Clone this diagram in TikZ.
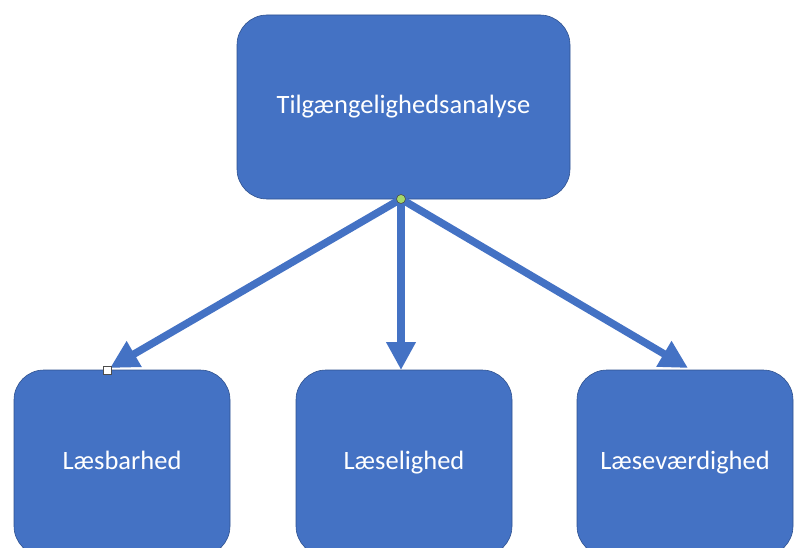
\documentclass[tikz,border=0pt]{standalone}
\usepackage{fontspec}
\setmainfont{Carlito}
\usetikzlibrary{arrows.meta}
\definecolor{boxblue}{HTML}{4472C4}
\definecolor{boxedge}{HTML}{2F528F}
\definecolor{handlegreen}{HTML}{A6D96A}
\begin{document}
\begin{tikzpicture}[x=1pt,y=-1pt,
  box/.style={draw=boxedge,line width=0.6pt,fill=boxblue,rounded corners=30pt,
    text=white,font=\fontsize{26.5}{30}\selectfont,inner sep=0pt,
    text height=1.5em,text depth=0.2em},
  conn/.style={draw=boxblue,line width=7.5pt,
    -{Triangle[length=28pt,width=28pt]}}]
\useasboundingbox (0,0) rectangle (797,548);
\begin{scope}
\clip (0,0) rectangle (797,548);
\node[box,minimum width=333pt,minimum height=184pt] (top) at (403.5,107) {Tilgængelighedsanalyse};
\node[box,minimum width=216pt,minimum height=186pt] (l) at (122,463) {Læsbarhed};
\node[box,minimum width=216pt,minimum height=186pt] (m) at (404,463) {Læselighed};
\node[box,minimum width=216pt,minimum height=186pt] (r) at (685,463) {Læseværdighed};
\end{scope}
\coordinate (s) at (401,199);
\coordinate (lt) at (110,368);
\coordinate (mt) at (401,370);
\coordinate (rt) at (688,368);
\draw[conn] (s) -- (lt);
\draw[conn] (s) -- (mt);
\draw[conn] (s) -- (rt);
\node[circle,draw=black!70,line width=0.6pt,fill=handlegreen,minimum size=9pt,inner sep=0pt] (h1) at (s) {};
\node[rectangle,draw=black!70,line width=0.6pt,fill=white,minimum size=8pt,inner sep=0pt] (h2) at (107,370) {};
\end{tikzpicture}
\end{document}
